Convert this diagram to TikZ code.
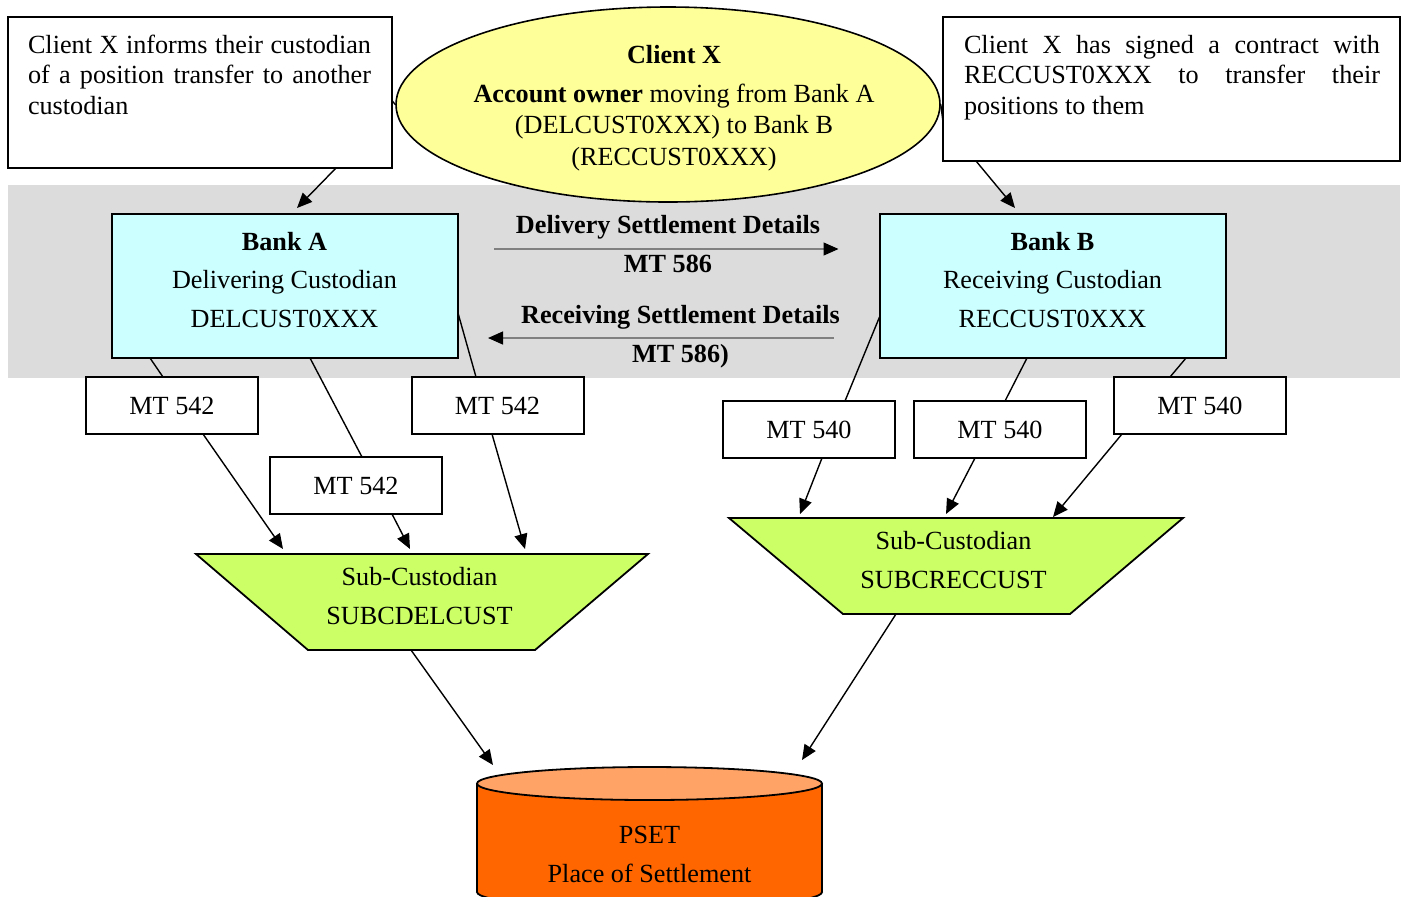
\documentclass[tikz,border=0pt]{standalone}
\usepackage{fontspec}
\setmainfont{Liberation Serif}
\usetikzlibrary{shapes.geometric,arrows.meta,calc}

\definecolor{bandgray}{HTML}{DCDCDC}
\definecolor{bankcyan}{HTML}{CCFFFF}
\definecolor{ownyellow}{HTML}{FFFF99}
\definecolor{subgreen}{HTML}{CCFF66}
\definecolor{psetbody}{HTML}{FF6600}
\definecolor{psettop}{HTML}{FFA366}

\begin{document}
\begin{tikzpicture}[x=0.5pt, y=-0.5pt,
  txt/.style={font=\fontsize{13.1pt}{#1}\selectfont, inner sep=0pt, outer sep=0pt},
  txt/.default=15.25pt,
  box/.style={draw, line width=1pt, inner sep=0pt, outer sep=0pt},
  msgbox/.style={box, fill=white, minimum width=86pt, minimum height=28.5pt,
    font=\fontsize{13.1pt}{15.25pt}\selectfont},
  bankbox/.style={box, fill=bankcyan, minimum width=173pt, minimum height=72pt},
  anchorbox/.style={inner sep=0pt, outer sep=0pt},
  conn/.style={line width=0.7pt},
  arr/.style={conn, -{Triangle[length=7.5pt,width=6.5pt]}},
  flowarr/.style={draw=gray, line width=0.6pt,
    -{Triangle[length=7.5pt,width=6.5pt,color=black]}},
]
\useasboundingbox (0,0) rectangle (1406,896);

% grey band behind the two custodians
\node[fill=bandgray, inner sep=0pt, minimum width=696pt, minimum height=96.5pt] (band) at (704,281.5) {};

% explanatory notes
\node[box, minimum width=192pt, minimum height=75.5pt] (leftnote) at (200,92.5) {};
\node[txt, anchor=base west, text width=171.5pt, align=justify] (leftnotetext) at (28,53)
  {\hyphenpenalty=10000\tolerance=10000 Client X informs their custodian\linebreak of a position transfer to another\linebreak custodian};
\node[box, minimum width=228.5pt, minimum height=72pt] (rightnote) at (1171.5,89) {};
\node[txt, anchor=base west, text width=208pt, align=justify] (rightnotetext) at (964,53)
  {\hyphenpenalty=10000\tolerance=10000 Client X has signed a contract with\linebreak RECCUST0XXX to transfer their\linebreak positions to them};

% account owner (multi-line labels are placed by their last baseline)
\node[ellipse, draw, line width=0.8pt, fill=ownyellow, minimum width=272pt, minimum height=97.5pt, inner sep=0pt] (clientx) at (668,104.5) {};
\node[txt=15.75pt, align=center, anchor=base] (clientxtext) at (674,165)
  {\textbf{Client X}\\[3.75pt]\textbf{Account owner} moving from Bank A\\(DELCUST0XXX) to Bank B\\(RECCUST0XXX)};

% custodians
\node[bankbox] (bankA) at (285,286) {};
\node[txt=19.25pt, align=center, anchor=base] (bankAtext) at (284.5,327)
  {\textbf{Bank A}\\Delivering Custodian\\DELCUST0XXX};
\node[bankbox] (bankB) at (1052.5,286) {};
\node[txt=19.25pt, align=center, anchor=base] (bankBtext) at (1052.5,327)
  {\textbf{Bank B}\\Receiving Custodian\\RECCUST0XXX};

% sub-custodians (inverted trapezia)
\node[anchorbox, minimum width=226pt, minimum height=48pt] (subA) at (422,602) {};
\filldraw[fill=subgreen, line width=0.9pt] (subA.north west) -- (subA.north east)
  -- ($(subA.south east)+(-113,0)$) -- ($(subA.south west)+(112,0)$) -- cycle;
\node[txt=19.5pt, align=center, anchor=base] (subAtext) at (419.5,624) {Sub-Custodian\\SUBCDELCUST};

\node[anchorbox, minimum width=227pt, minimum height=48pt] (subB) at (956,566) {};
\filldraw[fill=subgreen, line width=0.9pt] (subB.north west) -- (subB.north east)
  -- ($(subB.south east)+(-113,0)$) -- ($(subB.south west)+(114,0)$) -- cycle;
\node[txt=19.5pt, align=center, anchor=base] (subBtext) at (953.5,588) {Sub-Custodian\\SUBCRECCUST};

% place of settlement (cylinder, its base runs off the lower edge)
\node[anchorbox, minimum width=172.5pt, minimum height=66.5pt] (pset) at (649.5,833.5) {};
\fill[psetbody] (477,783.5) rectangle (822,892);
\fill[psetbody] (649.5,892) ellipse [x radius=172.5, y radius=16.5];
\begin{scope}
  \clip (400,892) rectangle (900,960);
  \draw[line width=0.9pt] (649.5,892) ellipse [x radius=172.5, y radius=16.5];
\end{scope}
\draw[line width=0.9pt] (477,783.5) -- (477,892) (822,783.5) -- (822,892);
\draw[line width=0.9pt, fill=psettop] (649.5,783.5) ellipse [x radius=172.5, y radius=16.5];
\node[txt=19.5pt, align=center, anchor=base] (psettext) at (649.5,882) {PSET\\Place of Settlement};

% settlement instructions
\node[msgbox] (m1) at (172,405.5) {MT 542};
\node[msgbox] (m2) at (356,485.5) {MT 542};
\node[msgbox] (m3) at (497.5,405.5) {MT 542};
\node[msgbox] (r1) at (809,429.5) {MT 540};
\node[msgbox] (r2) at (1000,429.5) {MT 540};
\node[msgbox] (r3) at (1200,405.5) {MT 540};

% notes to custodians
\draw[arr] ($(leftnote.south east)+(-56,0)$) -- ($(bankA.north)+(12,-6)$);
\draw[arr] ($(rightnote.south west)+(33,0)$) -- ($(bankB.north)+(-37.5,-6)$);
\draw[conn] ($(leftnote.east)+(0,8)$) -- (clientx.west);
\draw[conn] (clientx.east) -- ($(rightnote.west)+(0,33)$);

% delivering side
\draw[conn] ($(bankA.south west)+(38,0)$) -- ($(m1.north)+(-9,0)$);
\draw[arr] ($(m1.south)+(31,0)$) -- ($(subA.north)+(-139,-5)$);
\draw[conn] ($(bankA.south)+(25,0)$) -- ($(m2.north)+(6,0)$);
\draw[arr] ($(m2.south)+(36,0)$) -- ($(subA.north)+(-12,-5)$);
\draw[conn] ($(bankA.east)+(0,27)$) -- ($(m3.north)+(-21.5,0)$);
\draw[arr] ($(m3.south)+(-5.5,0)$) -- ($(subA.north)+(103,-5)$);

% receiving side
\draw[conn] ($(bankB.west)+(0,31)$) -- ($(r1.north)+(36,0)$);
\draw[arr] ($(r1.south)+(13,0)$) -- ($(subB.north)+(-156,-4)$);
\draw[conn] ($(bankB.south)+(-25.5,0)$) -- ($(r2.north)+(5,0)$);
\draw[arr] ($(r2.south)+(-25,0)$) -- ($(subB.north)+(-10,-4)$);
\draw[conn] ($(bankB.south)+(133.5,0)$) -- ($(r3.north)+(-30,0)$);
\draw[arr] ($(r3.south)+(-78,0)$) -- ($(subB.north)+(97,-1)$);

% sub-custodians to place of settlement
\draw[arr] ($(subA.south)+(-11,0)$) -- ($(pset.north)+(-156.5,-2)$);
\draw[arr] ($(subB.south)+(-60,0)$) -- ($(pset.north)+(152.5,-7)$);

% settlement details between custodians
\draw[flowarr] ($(bankA.east)+(36,-37)$) -- ($(bankB.west)+(-41,-37)$);
\draw[flowarr] ($(bankB.west)+(-46,52)$) -- ($(bankA.east)+(30,52)$);
\node[txt=19.5pt, align=center, anchor=base] (deliverylabel) at (668,272)
  {\textbf{Delivery Settlement Details}\\\textbf{MT 586}};
\node[txt=19.5pt, align=center, anchor=base] (receivinglabel) at (680.5,362)
  {\textbf{Receiving Settlement Details}\\\textbf{MT 586)}};
\end{tikzpicture}
\end{document}
